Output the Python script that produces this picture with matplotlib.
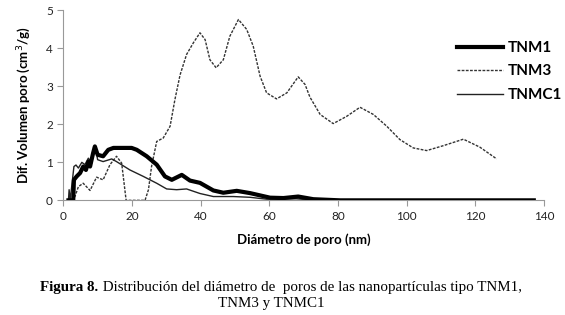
import matplotlib.pyplot as plt

# Distribución del diámetro de poros
tnm1_x = [1.5, 2.9, 3.1, 3.9, 4.9, 5.8, 6.6, 7.3, 7.8, 8.7, 9.2, 10.0, 11.6, 13.1, 14.6,
          19.9, 21.4, 24.3, 27.2, 29.6, 31.6, 34.5, 36.9, 39.8, 43.7, 46.6, 50.5, 54.4,
          60.2, 64.1, 68.4, 72.8, 80.6, 100, 120, 137]
tnm1_y = [0, 0, 0.54, 0.63, 0.72, 0.89, 0.80, 1.02, 0.89, 1.25, 1.42, 1.20, 1.16, 1.33, 1.38,
          1.38, 1.33, 1.16, 0.94, 0.63, 0.54, 0.67, 0.52, 0.46, 0.26, 0.20, 0.25, 0.19,
          0.07, 0.06, 0.10, 0.03, 0, 0, 0, 0]

tnm3_x = [2.4, 3.4, 4.4, 5.8, 7.8, 9.7, 11.6, 13.6, 15.5, 17.0, 18.3, 20, 23.8, 24.8, 25.7,
          27.2, 29.1, 31.1, 32.5, 34.0, 35.9, 37.9, 39.8, 41.3, 42.7, 44.5, 46.6, 48.5,
          51.0, 53.4, 55.3, 57.3, 59.2, 62.1, 65.1, 68.4, 70.4, 71.8, 74.8, 78.6, 82.5,
          86.4, 90.3, 94.2, 98.0, 101.9, 105.8, 110.7, 116.5, 121.3, 126.2]
tnm3_y = [0, 0.1, 0.36, 0.45, 0.26, 0.61, 0.54, 0.94, 1.16, 0.98, 0.0, 0.0, 0.0, 0.28, 0.89,
          1.55, 1.64, 1.95, 2.65, 3.30, 3.84, 4.15, 4.41, 4.23, 3.70, 3.49, 3.70, 4.32,
          4.76, 4.50, 4.06, 3.27, 2.83, 2.67, 2.83, 3.25, 3.05, 2.72, 2.26, 2.02, 2.21,
          2.45, 2.26, 1.95, 1.60, 1.38, 1.31, 1.44, 1.61, 1.40, 1.09]

tnmc1_x = [1.5, 1.7, 2.0, 3.1, 3.7, 4.4, 5.4, 6.3, 7.3, 8.3, 8.9, 9.4, 10.0, 11.6, 14.1,
           15.5, 19.4, 23.3, 27.2, 30.1, 33.0, 35.9, 39.8, 43.7, 49.5, 54.4, 59.2, 67.9,
           73.7, 100, 137]
tnmc1_y = [0, 0.28, 0, 0.89, 0.93, 0.85, 1.00, 0.94, 1.11, 0.98, 1.33, 1.38, 1.07, 1.02, 1.09,
           1.02, 0.80, 0.63, 0.45, 0.30, 0.28, 0.30, 0.18, 0.10, 0.10, 0.08, 0.03, 0.04,
           0, 0, 0]

fig = plt.figure(figsize=(5.65, 3.15), dpi=100)
ax = fig.add_axes([0.112, 0.364, 0.851, 0.603])

ax.plot(tnm1_x, tnm1_y, color="black", lw=3.0, label="TNM1", zorder=3)
ax.plot(tnm3_x, tnm3_y, color="#333333", lw=1.0, ls=(0, (2, 1)), label="TNM3")
ax.plot(tnmc1_x, tnmc1_y, color="#222222", lw=1.0, label="TNMC1")

ax.set_xlim(0, 140)
ax.set_ylim(0, 5)
ax.set_xticks(range(0, 141, 20))
ax.set_yticks(range(0, 6))
for s in ["top", "right"]:
    ax.spines[s].set_visible(False)
for s in ["left", "bottom"]:
    ax.spines[s].set_color("#999999")
ax.tick_params(colors="#999999", length=4, labelsize=8.5, labelcolor="#222222")
for lab in ax.get_xticklabels() + ax.get_yticklabels():
    lab.set_family("Lato")

ax.set_xlabel("Diámetro de poro (nm)", fontsize=9.5, fontweight="bold", family="Lato", labelpad=8)
ax.set_ylabel("Dif. Volumen poro (cm$^3$/g)", fontsize=9.5, fontweight="bold", family="Lato", labelpad=9)

ax.legend(loc="upper left", bbox_to_anchor=(457 / 565, 1 - 41 / 315), bbox_transform=fig.transFigure,
          frameon=False, handlelength=3.0, handletextpad=0.3, labelspacing=0.62,
          prop={"family": "Lato", "weight": "bold", "size": 11}, borderaxespad=0, borderpad=0)

# pie de figura: "Figura 8." en negrita + resto normal, centrado
r = fig.canvas.get_renderer()
y1 = 1 - 287 / 315
t1 = fig.text(0, y1, "Figura 8.", family="Liberation Serif", fontweight="bold",
              fontsize=10.8, va="center", ha="left")
t2 = fig.text(0, y1, " Distribución del diámetro de  poros de las nanopartículas tipo TNM1,",
              family="Liberation Serif", fontsize=10.8, va="center", ha="left")
w1 = t1.get_window_extent(r).width
w2 = t2.get_window_extent(r).width
x0 = 281 - (w1 + w2) / 2
t1.set_x(x0 / 565)
t2.set_x((x0 + w1) / 565)
fig.text(271 / 565, 1 - 304 / 315, "TNM3 y TNMC1", family="Liberation Serif",
         fontsize=10.8, va="center", ha="center")

plt.savefig("out.png")
